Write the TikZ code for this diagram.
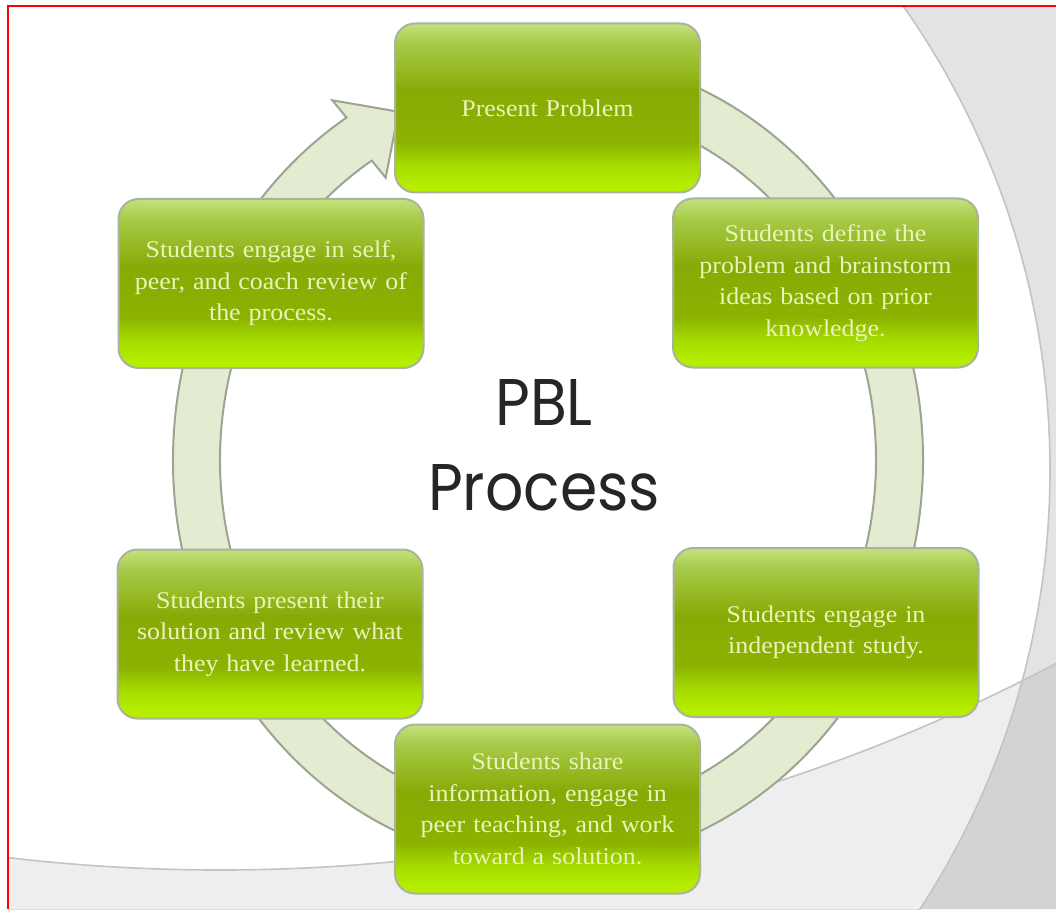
\documentclass[tikz,border=0pt]{standalone}
\usepackage{fontspec}
\setmainfont{Liberation Serif}[FakeStretch=1.08]
\newfontfamily\pblfont{Poppins}
\usetikzlibrary{calc}
\definecolor{gtop}{HTML}{C4E27E}
\definecolor{gone}{HTML}{A6CA48}
\definecolor{gmid}{HTML}{88AA06}
\definecolor{gtwo}{HTML}{8CB200}
\definecolor{gthree}{HTML}{A6DC00}
\definecolor{gbot}{HTML}{B6EE00}
\definecolor{boxedge}{HTML}{A9B39E}
\definecolor{boxtext}{HTML}{E8F5B8}
\definecolor{ringfill}{HTML}{E3EBD0}
\definecolor{ringedge}{HTML}{9CA593}
\definecolor{bgline}{HTML}{C4C4C4}
\pgfdeclareverticalshading{boxshade}{100bp}{color(0bp)=(gbot); color(25bp)=(gbot); color(27bp)=(gbot); color(33bp)=(gthree); color(40bp)=(gtwo); color(55bp)=(gmid); color(69bp)=(gone); color(75bp)=(gtop); color(100bp)=(gtop)}
\tikzset{
  stepbox/.style={rounded corners=20pt, minimum width=305pt, minimum height=169pt,
    inner sep=0pt, text width=295pt, align=center, shading=boxshade,
    draw=boxedge, line width=2pt, text=boxtext,
    font=\fontsize{24}{31.5}\selectfont},
  ringstyle/.style={fill=ringfill, draw=ringedge, line width=2pt, line join=miter},
  bgedge/.style={draw=bgline, line width=1.6pt}
}
\begin{document}
\begin{tikzpicture}[x=1pt,y=1pt]
\useasboundingbox (0,0) rectangle (1056,-909);
\fill[white] (0,0) rectangle (1056,-909);
% background grey shapes
\begin{scope}
  \clip (8,-6) rectangle (1056,-909);
  \fill[black, fill opacity=0.11, even odd rule] (8,-6) rectangle (1056,-909) (244,-470) circle (806);
  \fill[black, fill opacity=0.065, even odd rule] (8,-6) rectangle (1056,-909) (220,922) circle (1792);
  \draw[bgedge] (244,-470) circle (806);
  \draw[bgedge] (220,922) circle (1792);
\end{scope}
% red frame
\draw[red, line width=2.5pt] (8,-909) -- (8,-6) -- (1056,-6);
% ring with arrow
\coordinate (C) at (548,-460);
\coordinate (barbO) at (332.3,-100.3);
\coordinate (tip) at (398.5,-111.7);
\coordinate (barbI) at (385.7,-177.7);
\path[ringstyle] ($(C)+(85:375 and 406)$)
  arc[start angle=85, end angle=-237.5, x radius=375, y radius=406]
  -- (barbO) -- (tip) -- (barbI)
  -- ($(C)+(-237.5:328 and 355)$)
  arc[start angle=-237.5, end angle=85, x radius=328, y radius=355] -- cycle;
% boxes
\node[stepbox] (top) at (547.5,-108) {Present Problem};
\node[stepbox] (tr) at (825.5,-283) {Students define the\\problem and brainstorm\\ideas based on prior\\knowledge.};
\node[stepbox] (br) at (826,-632.5) {Students engage in\\independent study.};
\node[stepbox] (bot) at (547.5,-809) {Students share\\information, engage in\\peer teaching, and work\\toward a solution.};
\node[stepbox] (bl) at (270,-634) {Students present their\\solution and review what\\they have learned.};
\node[stepbox] (tl) at (271,-283.5) {Students engage in self,\\peer, and coach review of\\the process.};
% title
\node[align=center, font=\pblfont\fontsize{66}{85}\selectfont, text=black!85, xscale=0.91, transform shape] (title) at (544,-445) {PBL\\Process};
\end{tikzpicture}
\end{document}
